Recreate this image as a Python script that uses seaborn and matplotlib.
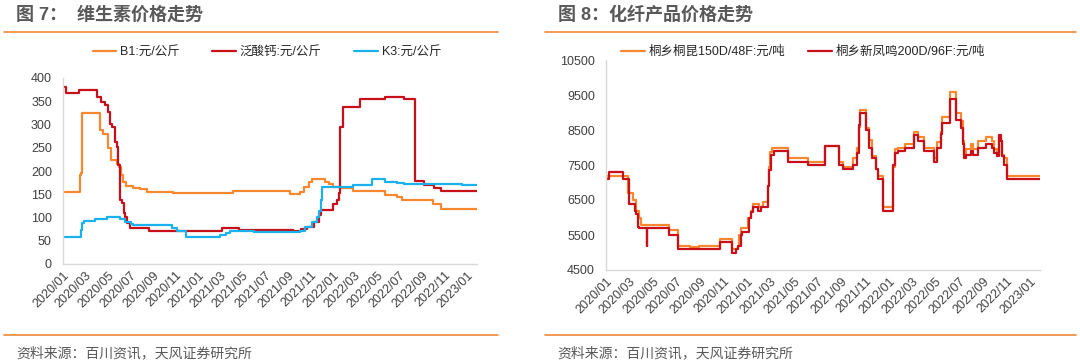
import pandas as pd
import seaborn as sns
import matplotlib.pyplot as plt
import matplotlib.dates as mdates
from matplotlib.lines import Line2D

# ---- 图7 维生素价格 (元/公斤), step series: change dates and levels ----
b1_dates = ["2020-01-01", "2020-02-15", "2020-02-18", "2020-02-22", "2020-04-10", "2020-04-19",
            "2020-05-02", "2020-05-11", "2020-05-25", "2020-06-01", "2020-06-05", "2020-06-12",
            "2020-06-21", "2020-07-09", "2020-07-27", "2020-08-15", "2020-10-26", "2020-12-01",
            "2021-04-07", "2021-09-08", "2021-10-05", "2021-10-14", "2021-10-28", "2021-11-06",
            "2021-12-10", "2021-12-22", "2022-01-01", "2022-01-22", "2022-02-24", "2022-05-23",
            "2022-06-24", "2022-07-07", "2022-10-01", "2022-10-21", "2023-01-28"]
b1_vals = [155, 191, 195, 324, 288, 280, 249, 224, 216, 209, 191, 177, 168, 164, 161, 155, 152,
           153, 158, 150, 155, 166, 177, 182, 177, 172, 166, 163, 158, 148, 145, 138, 128, 119, 119]

ca_dates = ["2020-01-01", "2020-01-10", "2020-02-14", "2020-04-01", "2020-04-14", "2020-04-24",
            "2020-05-01", "2020-05-08", "2020-05-14", "2020-05-21", "2020-05-25", "2020-05-30",
            "2020-06-04", "2020-06-09", "2020-06-13", "2020-06-18", "2020-06-22", "2020-07-01",
            "2020-08-20", "2020-10-25", "2021-03-08", "2021-04-21", "2021-09-15", "2021-10-06",
            "2021-10-23", "2021-11-10", "2021-11-24", "2021-11-29", "2022-01-03", "2022-01-13",
            "2022-01-18", "2022-01-21", "2022-01-28", "2022-03-16", "2022-05-24", "2022-07-13",
            "2022-08-13", "2022-09-06", "2022-10-03", "2022-10-22", "2023-01-28"]
ca_vals = [380, 367, 374, 360, 349, 342, 327, 302, 295, 263, 252, 213, 138, 131, 109, 102, 88, 77,
           72, 70, 78, 73, 72, 75, 80, 91, 105, 116, 130, 138, 152, 295, 338, 354, 360, 354,
           179, 170, 163, 158, 158]

k3_dates = ["2020-01-01", "2020-02-20", "2020-02-22", "2020-02-26", "2020-03-27", "2020-04-28",
            "2020-06-03", "2020-06-17", "2020-07-02", "2020-07-09", "2020-09-29", "2020-10-22",
            "2020-11-05", "2020-11-28", "2020-12-28", "2021-03-02", "2021-03-19", "2021-03-28",
            "2021-06-01", "2021-10-05", "2021-10-19", "2021-11-06", "2021-11-20", "2021-11-25",
            "2021-11-29", "2021-12-02", "2022-02-24", "2022-04-18", "2022-05-23", "2022-06-24",
            "2022-07-13", "2022-12-18", "2023-01-28"]
k3_vals = [59, 73, 88, 93, 97, 102, 97, 91, 85, 84, 83, 77, 70, 59, 58, 62, 67, 70, 69, 72, 80,
           91, 102, 113, 138, 166, 170, 183, 177, 175, 172, 169, 169]

# ---- 图8 化纤产品价格 (元/吨) ----
tk_dates = ["2020-01-01", "2020-01-07", "2020-02-27", "2020-03-10", "2020-03-19", "2020-03-27",
            "2020-04-01", "2020-06-13", "2020-07-04", "2020-08-04", "2020-08-28", "2020-10-21",
            "2020-11-22", "2020-12-06", "2020-12-10", "2020-12-16", "2021-01-03", "2021-01-10",
            "2021-01-15", "2021-01-31", "2021-02-10", "2021-02-22", "2021-02-26", "2021-03-01",
            "2021-03-06", "2021-04-16", "2021-06-05", "2021-07-20", "2021-08-25", "2021-09-04",
            "2021-10-01", "2021-10-12", "2021-10-16", "2021-10-19", "2021-11-02", "2021-11-11",
            "2021-11-19", "2021-11-28", "2021-12-04", "2021-12-16", "2022-01-13", "2022-01-18",
            "2022-01-24", "2022-02-13", "2022-03-08", "2022-03-17", "2022-04-01", "2022-04-27",
            "2022-05-05", "2022-05-15", "2022-05-19", "2022-06-09", "2022-06-24", "2022-07-07",
            "2022-07-11", "2022-07-15", "2022-07-20", "2022-08-01", "2022-08-06", "2022-08-19",
            "2022-09-10", "2022-09-24", "2022-10-01", "2022-10-08", "2022-10-12", "2022-10-17",
            "2022-10-22", "2022-10-27", "2022-11-02", "2023-01-27"]
tk_vals = [7100, 7200, 6700, 6500, 6200, 6000, 5800, 5650, 5200, 5150, 5200, 5400, 5100, 5200,
           5500, 5700, 6000, 6200, 6400, 6300, 6450, 6900, 7450, 7880, 8000, 7700, 7600, 8050,
           7600, 7450, 7700, 8000, 8600, 9070, 8550, 8210, 7760, 7400, 7200, 6300, 7450, 7950,
           8000, 8100, 8450, 8300, 8000, 7700, 8150, 8450, 8880, 9600, 8980, 8750, 8200, 7800,
           7950, 8100, 7950, 8200, 8300, 8200, 7950, 7800, 8300, 8200, 7800, 7700, 7200, 7200]

xfm_dates = ["2020-01-01", "2020-01-08", "2020-02-13", "2020-03-01", "2020-03-15", "2020-03-19",
             "2020-03-23", "2020-03-27", "2020-04-15", "2020-04-17", "2020-06-13", "2020-07-04",
             "2020-10-21", "2020-11-22", "2020-12-03", "2020-12-08", "2020-12-14", "2020-12-18",
             "2021-01-05", "2021-01-11", "2021-01-15", "2021-01-29", "2021-02-06", "2021-02-22",
             "2021-02-26", "2021-03-02", "2021-03-10", "2021-04-16", "2021-06-05", "2021-07-20",
             "2021-08-25", "2021-09-04", "2021-10-01", "2021-10-12", "2021-10-16", "2021-10-19",
             "2021-11-02", "2021-11-11", "2021-11-19", "2021-11-28", "2021-12-04", "2021-12-16",
             "2022-01-13", "2022-01-18", "2022-01-24", "2022-02-13", "2022-03-08", "2022-03-17",
             "2022-04-01", "2022-04-27", "2022-05-05", "2022-05-15", "2022-05-19", "2022-06-09",
             "2022-06-24", "2022-07-07", "2022-07-11", "2022-07-15", "2022-07-20", "2022-08-01",
             "2022-08-06", "2022-08-19", "2022-09-10", "2022-09-24", "2022-10-01", "2022-10-08",
             "2022-10-12", "2022-10-17", "2022-10-22", "2022-10-27", "2022-11-02", "2023-01-27"]
xfm_vals = [7100, 7300, 7100, 6400, 6200, 6100, 5740, 5700, 5200, 5700, 5500, 5100, 5300, 5000,
            5100, 5200, 5500, 5600, 6000, 6150, 6300, 6200, 6300, 6900, 7350, 7790, 7900, 7600,
            7500, 8050, 7500, 7400, 7500, 7850, 8650, 8980, 8500, 8000, 7700, 7400, 7100, 6200,
            7500, 7850, 7900, 8000, 8350, 8200, 7900, 7600, 8000, 8400, 8700, 9400, 8800, 8550,
            8100, 7700, 7800, 7900, 7800, 8000, 8100, 8000, 7850, 7750, 8350, 8200, 7750, 7500,
            7100, 7100]

left_ticks = list(range(0, 401, 50))
right_ticks = list(range(4500, 10501, 1000))

ORANGE = "#F7882F"
RED = "#C8101A"
BLUE = "#1BB1EC"
GRAY_TXT = "#595959"
RULE = "#EE8A3C"
FONTS = ["Liberation Sans", "Noto Sans CJK SC"]

sns.set_theme(style="white")
plt.rcParams["font.family"] = FONTS
plt.rcParams["axes.unicode_minus"] = False

fig = plt.figure(figsize=(10.8, 3.63), dpi=100)

# headers, rules and source lines
fig.text(16 / 1080, 1 - 15 / 363, "图 7：  维生素价格走势", fontsize=13, fontweight="bold",
         color=GRAY_TXT, va="center", ha="left")
fig.text(558 / 1080, 1 - 15 / 363, "图 8：化纤产品价格走势", fontsize=13, fontweight="bold",
         color=GRAY_TXT, va="center", ha="left")
for x0, x1 in [(4, 498), (545, 1076)]:
    for yy in (32, 335):
        fig.add_artist(Line2D([x0 / 1080, x1 / 1080], [1 - yy / 363] * 2, color=RULE, lw=1.2))
    fig.text((x0 + 12) / 1080, 1 - 353 / 363, "资料来源：百川资讯，天风证券研究所", fontsize=10,
             color=GRAY_TXT, va="center", ha="left")

ax1 = fig.add_axes([63 / 1080, 1 - 264 / 363, (477 - 63) / 1080, 186 / 363])
ax2 = fig.add_axes([606 / 1080, 1 - 270 / 363, (1040 - 606) / 1080, 210 / 363])

series1 = [(b1_dates, b1_vals, ORANGE, "B1:元/公斤"),
           (ca_dates, ca_vals, RED, "泛酸钙:元/公斤"),
           (k3_dates, k3_vals, BLUE, "K3:元/公斤")]
series2 = [(tk_dates, tk_vals, ORANGE, "桐乡桐昆150D/48F:元/吨"),
           (xfm_dates, xfm_vals, RED, "桐乡新凤鸣200D/96F:元/吨")]

for ax, series, ticks in [(ax1, series1, left_ticks), (ax2, series2, right_ticks)]:
    for d, v, c, lab in series:
        df = pd.DataFrame({"date": pd.to_datetime(d), "value": v})
        sns.lineplot(data=df, x="date", y="value", ax=ax, color=c, lw=1.6,
                     drawstyle="steps-post", label=lab)
    ax.set_xlim(pd.Timestamp("2020-01-01"), pd.Timestamp("2023-01-27"))
    ax.set_ylim(ticks[0], ticks[-1])
    ax.set_yticks(ticks)
    ax.set_xticks(pd.date_range("2020-01-01", "2023-01-01", freq="2MS"))
    ax.xaxis.set_major_formatter(mdates.DateFormatter("%Y/%m"))
    ax.set_xlabel("")
    ax.set_ylabel("")
    for s in ["top", "right"]:
        ax.spines[s].set_visible(False)
    for s in ["left", "bottom"]:
        ax.spines[s].set_color("#D9D9D9")
        ax.spines[s].set_linewidth(1.0)
    ax.tick_params(axis="both", length=0, labelsize=9, colors="#404040")
    ax.tick_params(axis="y", pad=8)
    ax.tick_params(axis="x", pad=4)
    for lab in ax.get_xticklabels():
        lab.set_rotation(45)
        lab.set_ha("right")
        lab.set_rotation_mode("anchor")

ax1.legend(loc="center", bbox_to_anchor=(267 / 1080, 1 - 52 / 363), bbox_transform=fig.transFigure,
           ncol=3, frameon=False, fontsize=9, handlelength=1.9, handletextpad=0.3,
           columnspacing=2.6, borderaxespad=0)
ax2.legend(loc="center", bbox_to_anchor=(803 / 1080, 1 - 52 / 363), bbox_transform=fig.transFigure,
           ncol=2, frameon=False, fontsize=9, handlelength=1.9, handletextpad=0.3,
           columnspacing=1.8, borderaxespad=0)

fig.savefig("out.png", dpi=100)
